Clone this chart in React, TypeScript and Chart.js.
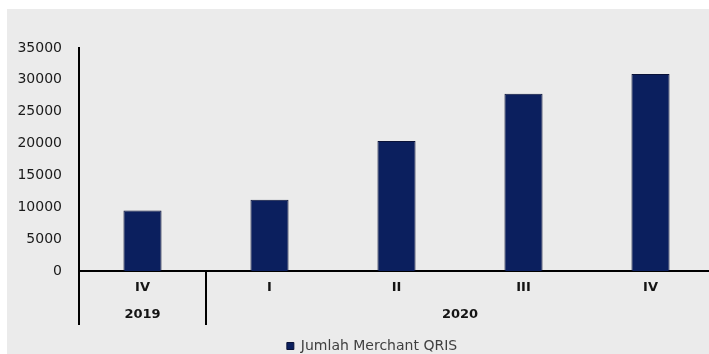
import React, { useEffect, useRef } from "react";
import { Chart, registerables } from "chart.js";

Chart.register(...registerables);

const categories = ["IV", "I", "II", "III", "IV"];
const merchantValues = [9500, 11200, 20400, 27800, 30900];
const yearLabels = ["2019", "2020"];
const yearSpans = [1, 4];
const seriesName = "Jumlah Merchant QRIS";
const yMin = 0;
const yMax = 35000;
const yStep = 5000;

const FONT = "'DejaVu Sans', sans-serif";

const CANVAS_W = 716;
const CANVAS_H = 363;

const backgroundPlugin = {
  id: "bgPlugin",
  beforeDraw(chart: any) {
    const { ctx, width, height } = chart;
    ctx.save();
    ctx.fillStyle = "#ffffff";
    ctx.fillRect(0, 0, width, height);
    ctx.fillStyle = "#ebebeb";
    ctx.fillRect(7, 9, width - 7, height - 9);
    ctx.restore();
  },
};

const legendShiftPlugin = {
  id: "legendShift",
  afterLayout(chart: any) {
    const lg = chart.legend;
    if (!lg) return;
    lg.left = 30;
    lg.right = chart.chartArea.right;
    lg.width = lg.right - lg.left;
  },
};

const groupPlugin = {
  id: "groupPlugin",
  afterDraw(chart: any) {
    const { ctx, chartArea, scales } = chart;
    const x = scales.x;
    const zeroY = chartArea.bottom;
    const lineBottom = 325;
    const step = x.getPixelForValue(1) - x.getPixelForValue(0);
    ctx.save();
    ctx.strokeStyle = "#000000";
    ctx.lineWidth = 2;
    const bounds: number[] = [chartArea.left];
    let idx = 0;
    yearSpans.forEach((span) => {
      idx += span;
      const px = x.getPixelForValue(idx - 1) + step / 2;
      bounds.push(Math.min(px, chartArea.right));
    });
    bounds.forEach((bx) => {
      ctx.beginPath();
      ctx.moveTo(bx, zeroY);
      ctx.lineTo(bx, lineBottom);
      ctx.stroke();
    });
    ctx.fillStyle = "#141414";
    ctx.font = `bold 13px ${FONT}`;
    ctx.textAlign = "center";
    ctx.textBaseline = "middle";
    let start = 0;
    yearLabels.forEach((label, i) => {
      const end = start + yearSpans[i] - 1;
      const cx = (x.getPixelForValue(start) + x.getPixelForValue(end)) / 2;
      ctx.fillText(label, cx, 315);
      start = end + 1;
    });
    ctx.restore();
  },
};

export default function App() {
  const canvasRef = useRef<HTMLCanvasElement | null>(null);

  useEffect(() => {
    const canvas = canvasRef.current;
    if (!canvas) return;
    const chart = new Chart(canvas, {
      type: "bar",
      data: {
        labels: categories,
        datasets: [
          {
            label: seriesName,
            data: merchantValues,
            backgroundColor: "#0b1f5e",
            borderColor: "#0a1238",
            borderWidth: 1,
            barPercentage: 0.3,
            categoryPercentage: 1,
          },
        ],
      },
      options: {
        responsive: false,
        animation: false,
        devicePixelRatio: 1,
        layout: { padding: { top: 48, left: 8, right: 2, bottom: 0 } },
        plugins: {
          legend: {
            position: "bottom",
            labels: {
              font: { family: FONT, size: 14 },
              color: "#404040",
              boxWidth: 7,
              boxHeight: 7,
              padding: 0,
            },
          },
          tooltip: { enabled: false },
        },
        scales: {
          x: {
            grid: { display: false, drawTicks: false },
            border: { display: true, color: "#000000", width: 2 },
            ticks: {
              font: { family: FONT, size: 13, weight: "bold" },
              color: "#141414",
              padding: 9,
              maxRotation: 0,
            },
            afterFit(scale: any) {
              scale.height = 68;
            },
          },
          y: {
            min: yMin,
            max: yMax,
            grid: { display: false, drawTicks: false },
            border: { display: true, color: "#000000", width: 2 },
            ticks: {
              stepSize: yStep,
              font: { family: FONT, size: 14 },
              color: "#1a1a1a",
              padding: 17,
              callback: (v: any) => String(v),
            },
            afterFit(scale: any) {
              scale.width = 71;
            },
          },
        },
      },
      plugins: [backgroundPlugin, legendShiftPlugin, groupPlugin],
    });
    return () => chart.destroy();
  }, []);

  return (
    <div
      style={{
        position: "fixed",
        left: 0,
        top: 0,
        width: 709,
        height: 354,
        overflow: "hidden",
        background: "#ebebeb",
      }}
    >
      <canvas
        ref={canvasRef}
        width={CANVAS_W}
        height={CANVAS_H}
        style={{ display: "block", width: CANVAS_W, height: CANVAS_H }}
      />
    </div>
  );
}
